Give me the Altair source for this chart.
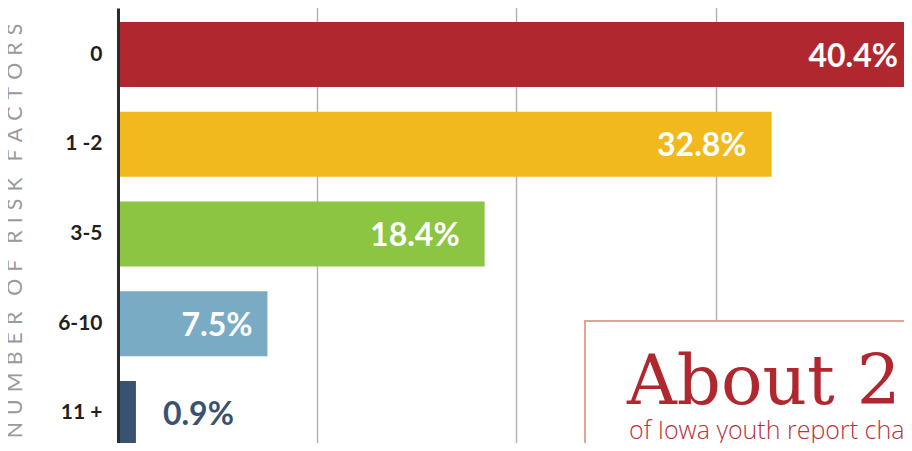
import altair as alt
import pandas as pd

categories = ["0", "1 -2", "3-5", "6-10", "11 +"]
values = [40.4, 32.8, 18.4, 7.5, 0.9]
labels = ["40.4%", "32.8%", "18.4%", "7.5%", "0.9%"]
colors = ["#b02730", "#f1b91d", "#8cc541", "#79abc5", "#3a5272"]

axis_title = "\u2002\u2005".join(
    "\u2004".join(list(w)) for w in ["NUMBER", "OF", "RISK", "FACTORS"]
)
headline = "About 25%"
subline = "of Iowa youth report challenges"

df = pd.DataFrame({"cat": categories, "v": values, "lab": labels})

yscale = alt.Scale(paddingInner=0.27577, paddingOuter=0.156, range=[0, 452])

yenc = alt.Y(
    "cat:N",
    sort=categories,
    scale=yscale,
    axis=alt.Axis(
        title=axis_title,
        titleX=-103,
        titleY=222.5,
        titleAngle=270,
        titleAlign="center",
        titleBaseline="middle",
        titleFont="Lato",
        titleFontSize=21.3,
        titleFontWeight="normal",
        titleColor="#9a9a9a",
        labelFont="Lato",
        labelFontSize=21,
        labelFontWeight="bold",
        labelColor="#231f20",
        labelPadding=16,
        ticks=False,
        domainColor="#2b2b2b",
        domainWidth=3,
        grid=False,
        zindex=1,
    ),
)

xenc = alt.X(
    "v:Q",
    scale=alt.Scale(domain=[0, 39.448], nice=False, zero=True),
    axis=alt.Axis(
        title=None,
        labels=False,
        ticks=False,
        domain=False,
        grid=True,
        values=[10, 20, 30],
        gridColor="#b3b3b3",
        gridWidth=1.5,
    ),
)

base = alt.Chart(df)

bars = base.mark_bar().encode(
    x=xenc,
    y=yenc,
    color=alt.Color("cat:N", scale=alt.Scale(domain=categories, range=colors), legend=None),
)

txt_common = dict(font="Lato", fontSize=32, fontWeight="bold", baseline="middle", dy=2)
ytext = alt.Y("cat:N", sort=categories, scale=yscale)

lab_big = base.transform_filter("datum.v >= 10").mark_text(
    align="right", dx=-25, color="white", **txt_common
).encode(x="v:Q", y=ytext, text="lab:N")

lab_mid = base.transform_filter("datum.v >= 5 && datum.v < 10").mark_text(
    align="right", dx=-15, color="white", **txt_common
).encode(x="v:Q", y=ytext, text="lab:N")

lab_small = base.transform_filter("datum.v < 5").mark_text(
    align="left", dx=27, color="#3a5272", **txt_common
).encode(x="v:Q", y=ytext, text="lab:N")

box = alt.Chart(pd.DataFrame({"a": [0]})).mark_rect(
    fill="white", stroke="#e0a597", strokeWidth=2
).encode(
    x=alt.value(467), x2=alt.value(900), y=alt.value(313), y2=alt.value(520)
)

head = alt.Chart(pd.DataFrame({"t": [headline]})).mark_text(
    align="left", baseline="alphabetic", font="DejaVu Serif", fontSize=69,
    fontWeight="normal", color="#b02730"
).encode(x=alt.value(509), y=alt.value(396), text="t:N")

sub = alt.Chart(pd.DataFrame({"t": [subline]})).mark_text(
    align="left", baseline="alphabetic", font="Open Sans", fontSize=25,
    fontWeight=300, color="#b5343c"
).encode(x=alt.value(511), y=alt.value(431), text="t:N")

chart = alt.layer(bars, lab_big, lab_mid, lab_small, box, head, sub).properties(
    width=786,
    height=435,
    autosize=alt.AutoSizeParams(type="none"),
    padding={"left": 110, "top": 0, "right": 0, "bottom": 0},
    background="white",
).configure_view(stroke=None)

chart.save("out.html", embed_options={"renderer": "svg", "actions": False})
